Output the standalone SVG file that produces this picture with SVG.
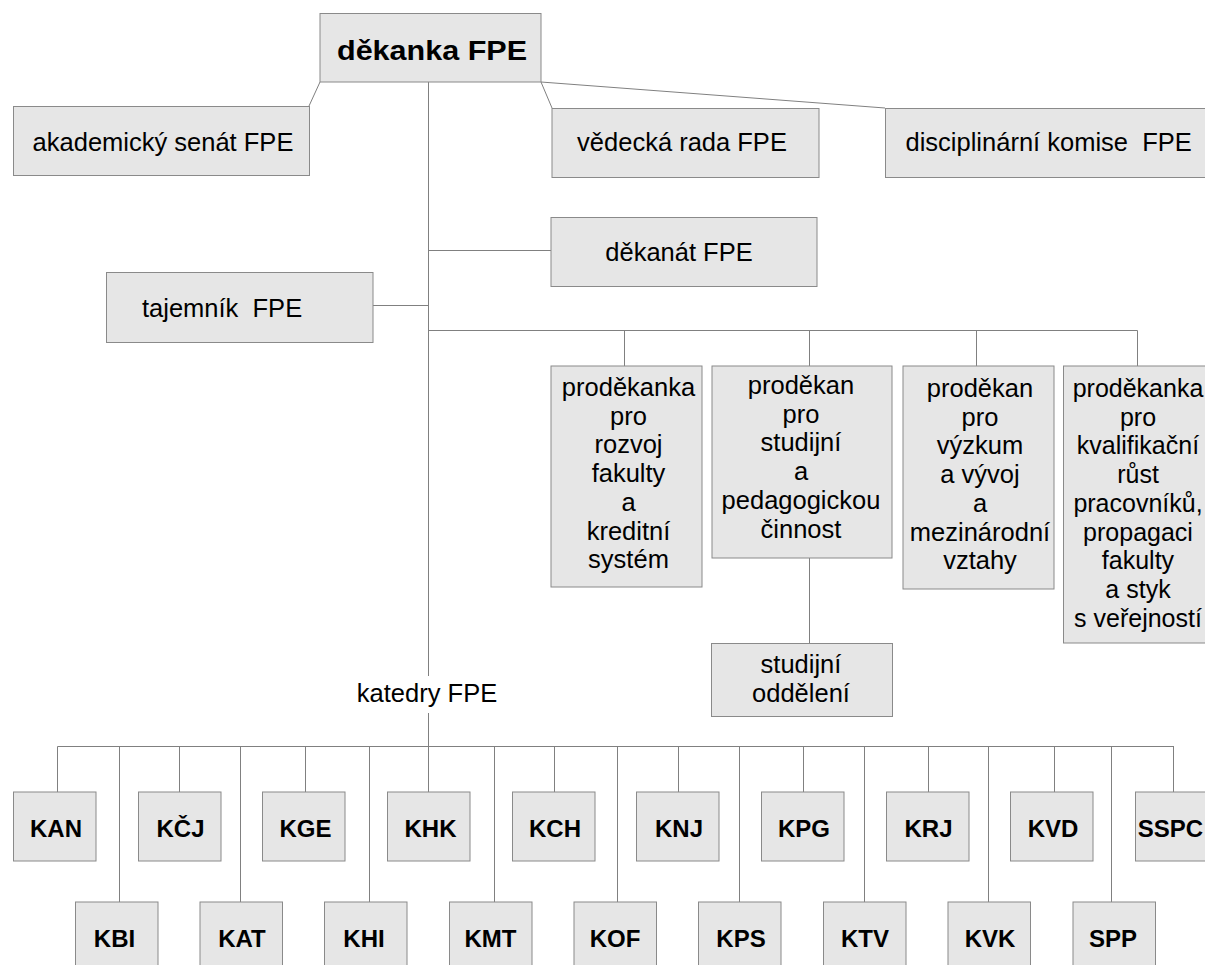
<svg xmlns="http://www.w3.org/2000/svg" width="1205" height="965" viewBox="0 0 1205 965">
<style>
.box{fill:#e6e6e6;stroke:#8a8a8a;stroke-width:1}
.ln{stroke:#808080;stroke-width:1;fill:none}
.t{font-family:"Liberation Sans",Arial,sans-serif;font-size:25.5px;fill:#000}
.m{text-anchor:middle}
.b{font-family:"Liberation Sans",Arial,sans-serif;font-weight:bold;font-size:24px;fill:#000;text-anchor:middle}
</style>
<rect width="1205" height="965" fill="#fff"/>
<g id="connectors" class="ln">
<path d="M320,82 L309,106"/>
<path d="M541,82 L552,108"/>
<path d="M541,82 L885,108"/>
<path d="M428.5,82 V676 M428.5,713 V746"/>
<path d="M428.5,250.5 H551"/>
<path d="M373,305.5 H428.5"/>
<path d="M428.5,330.5 H1137.5"/>
<path d="M624.5,330.5 V366 M809.5,330.5 V366 M976.5,330.5 V366 M1137.5,330.5 V366"/>
<path d="M809.5,558 V643"/>
<path d="M57.5,746.5 H1174"/>
<path d="M57.5,746.5 V792 M179.5,746.5 V792 M305.5,746.5 V792 M428.5,746.5 V792 M554.5,746.5 V792 M678.5,746.5 V792 M803.5,746.5 V792 M928.5,746.5 V792 M1054.5,746.5 V792 M1173.5,746.5 V792"/>
<path d="M119.5,746.5 V902 M240.5,746.5 V902 M369.5,746.5 V902 M494.5,746.5 V902 M617.5,746.5 V902 M739.5,746.5 V902 M864.5,746.5 V902 M988.5,746.5 V902 M1111.5,746.5 V902"/>
</g>
<g id="dekanka"><rect class="box" x="320" y="13.5" width="221" height="68.5"/><text class="b" x="432" y="59.5" textLength="190" lengthAdjust="spacingAndGlyphs" style="font-size:27px">děkanka FPE</text></g>
<g id="senat"><rect class="box" x="13.5" y="106.5" width="296" height="69"/><text class="t m" x="163" y="151">akademický senát FPE</text></g>
<g id="vedecka"><rect class="box" x="552" y="108.5" width="267" height="69"/><text class="t m" x="682" y="151">vědecká rada FPE</text></g>
<g id="disciplinarni"><rect class="box" x="885.5" y="108.5" width="330" height="69"/><text class="t" x="905.5" y="151" xml:space="preserve">disciplinární komise  FPE</text></g>
<g id="dekanat"><rect class="box" x="551" y="217.5" width="266" height="69"/><text class="t m" x="679" y="261">děkanát FPE</text></g>
<g id="tajemnik"><rect class="box" x="106.5" y="272.5" width="266.5" height="70"/><text class="t" x="142" y="317" xml:space="preserve">tajemník  FPE</text></g>
<g id="prodekan1"><rect class="box" x="551" y="366" width="151" height="221"/><text class="t m" x="628.5" y="396"><tspan x="628.5">proděkanka</tspan><tspan x="628.5" dy="28.7">pro</tspan><tspan x="628.5" dy="28.7">rozvoj</tspan><tspan x="628.5" dy="28.7">fakulty</tspan><tspan x="628.5" dy="28.7">a</tspan><tspan x="628.5" dy="28.7">kreditní</tspan><tspan x="628.5" dy="28.7">systém</tspan></text></g>
<g id="prodekan2"><rect class="box" x="712" y="366" width="180" height="192"/><text class="t m" x="801" y="394"><tspan x="801">proděkan</tspan><tspan x="801" dy="28.7">pro</tspan><tspan x="801" dy="28.7">studijní</tspan><tspan x="801" dy="28.7">a</tspan><tspan x="801" dy="28.7">pedagogickou</tspan><tspan x="801" dy="28.7">činnost</tspan></text></g>
<g id="prodekan3"><rect class="box" x="903" y="366" width="151" height="223"/><text class="t m" x="980" y="397"><tspan x="980">proděkan</tspan><tspan x="980" dy="28.7">pro</tspan><tspan x="980" dy="28.7">výzkum</tspan><tspan x="980" dy="28.7">a vývoj</tspan><tspan x="980" dy="28.7">a</tspan><tspan x="980" dy="28.7">mezinárodní</tspan><tspan x="980" dy="28.7">vztahy</tspan></text></g>
<g id="prodekan4"><rect class="box" x="1063.5" y="366" width="162" height="277"/><text class="t m" x="1138" y="397" style="font-size:25px"><tspan x="1138">proděkanka</tspan><tspan x="1138" dy="28.7">pro</tspan><tspan x="1138" dy="28.7">kvalifikační</tspan><tspan x="1138" dy="28.7">růst</tspan><tspan x="1138" dy="28.7">pracovníků,</tspan><tspan x="1138" dy="28.7">propagaci</tspan><tspan x="1138" dy="28.7">fakulty</tspan><tspan x="1138" dy="28.7">a styk</tspan><tspan x="1138" dy="28.7">s veřejností</tspan></text></g>
<g id="studijni"><rect class="box" x="711.5" y="643.5" width="181" height="73"/><text class="t m" x="801" y="673"><tspan x="801">studijní</tspan><tspan x="801" dy="28.7">oddělení</tspan></text></g>
<g id="katedry"><text class="t m" x="427" y="702">katedry FPE</text></g>
<g id="KAN"><rect class="box" x="13.5" y="792" width="82.5" height="69"/><text class="b" x="56" y="837">KAN</text></g>
<g id="KCJ"><rect class="box" x="138.5" y="792" width="82.5" height="69"/><text class="b" x="180.5" y="837">KČJ</text></g>
<g id="KGE"><rect class="box" x="262.5" y="792" width="82.5" height="69"/><text class="b" x="305.5" y="837">KGE</text></g>
<g id="KHK"><rect class="box" x="387.5" y="792" width="82.5" height="69"/><text class="b" x="430.5" y="837">KHK</text></g>
<g id="KCH"><rect class="box" x="512.5" y="792" width="82.5" height="69"/><text class="b" x="555" y="837">KCH</text></g>
<g id="KNJ"><rect class="box" x="636.5" y="792" width="82.5" height="69"/><text class="b" x="679" y="837">KNJ</text></g>
<g id="KPG"><rect class="box" x="761.5" y="792" width="82.5" height="69"/><text class="b" x="804" y="837">KPG</text></g>
<g id="KRJ"><rect class="box" x="886.5" y="792" width="82.5" height="69"/><text class="b" x="928.5" y="837">KRJ</text></g>
<g id="KVD"><rect class="box" x="1010.5" y="792" width="82.5" height="69"/><text class="b" x="1053" y="837">KVD</text></g>
<g id="SSPC"><rect class="box" x="1135.5" y="792" width="82.5" height="69"/><text class="b" x="1170.5" y="837">SSPC</text></g>
<g id="KBI"><rect class="box" x="75.5" y="902" width="82.5" height="70"/><text class="b" x="114.5" y="947">KBI</text></g>
<g id="KAT"><rect class="box" x="200" y="902" width="82.5" height="70"/><text class="b" x="242" y="947">KAT</text></g>
<g id="KHI"><rect class="box" x="324.5" y="902" width="82.5" height="70"/><text class="b" x="364" y="947">KHI</text></g>
<g id="KMT"><rect class="box" x="449.5" y="902" width="82.5" height="70"/><text class="b" x="490.5" y="947">KMT</text></g>
<g id="KOF"><rect class="box" x="574" y="902" width="82.5" height="70"/><text class="b" x="615" y="947">KOF</text></g>
<g id="KPS"><rect class="box" x="698.5" y="902" width="82.5" height="70"/><text class="b" x="741" y="947">KPS</text></g>
<g id="KTV"><rect class="box" x="823.5" y="902" width="82.5" height="70"/><text class="b" x="865" y="947">KTV</text></g>
<g id="KVK"><rect class="box" x="948" y="902" width="82.5" height="70"/><text class="b" x="990" y="947">KVK</text></g>
<g id="SPP"><rect class="box" x="1073" y="902" width="82.5" height="70"/><text class="b" x="1113" y="947">SPP</text></g>
</svg>
